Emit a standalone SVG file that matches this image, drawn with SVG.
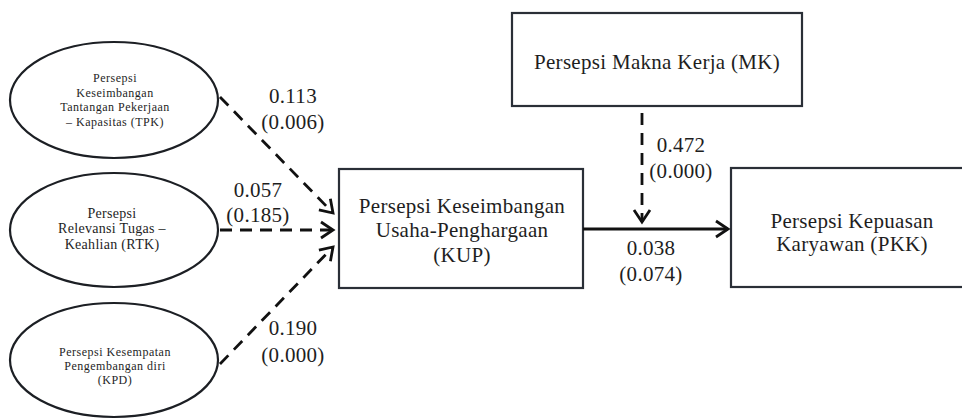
<svg xmlns="http://www.w3.org/2000/svg" width="962" height="420" viewBox="0 0 962 420" font-family="'Liberation Serif', 'Times New Roman', 'DejaVu Serif', serif">
<style>
  .bg{fill:#ffffff}
  .ell{fill:#ffffff;stroke:#1c1f24;stroke-width:2.2}
  .box{fill:#ffffff;stroke:#2a2f37;stroke-width:2.2}
  .t{font-family:'Liberation Serif','Times New Roman','DejaVu Serif',serif;fill:#1e1e1e;text-anchor:middle}
  .big{font-size:21px;letter-spacing:0.3px}
  .sm{font-size:12px;letter-spacing:0.5px}
  .md{font-size:14px;letter-spacing:0.3px}
  .lbl{font-size:21px;letter-spacing:0.3px}
  .dash{fill:none;stroke:#111;stroke-width:2.8;stroke-dasharray:12 8}
  .solid{fill:none;stroke:#111;stroke-width:2.8}
</style>
<defs>
  <marker id="ah" markerWidth="18" markerHeight="22" refX="14" refY="10" orient="auto" markerUnits="userSpaceOnUse">
    <path d="M2,2 L14,10 L2,18" fill="none" stroke="#111" stroke-width="2.8" stroke-dasharray="none" stroke-linejoin="miter"/>
  </marker>
</defs>
<rect class="bg" x="0" y="0" width="962" height="420"/>

<g id="node-TPK">
  <ellipse class="ell" cx="114" cy="100" rx="104" ry="58"/>
  <text class="t sm" x="115" y="82">Persepsi</text>
  <text class="t sm" x="115" y="97">Keseimbangan</text>
  <text class="t sm" x="115" y="111">Tantangan Pekerjaan</text>
  <text class="t sm" x="115" y="126">– Kapasitas (TPK)</text>
</g>

<g id="node-RTK">
  <ellipse class="ell" cx="114" cy="230" rx="104" ry="57"/>
  <text class="t md" x="112" y="218">Persepsi</text>
  <text class="t md" x="112" y="233">Relevansi Tugas –</text>
  <text class="t md" x="112" y="249">Keahlian (RTK)</text>
</g>

<g id="node-KPD">
  <ellipse class="ell" cx="114" cy="360" rx="104" ry="57"/>
  <text class="t sm" x="115" y="356">Persepsi Kesempatan</text>
  <text class="t sm" x="115" y="370">Pengembangan diri</text>
  <text class="t sm" x="115" y="384">(KPD)</text>
</g>

<g id="node-MK">
  <rect class="box" x="512" y="13" width="290" height="93"/>
  <text class="t big" x="657" y="69">Persepsi Makna Kerja (MK)</text>
</g>

<g id="node-KUP">
  <rect class="box" x="339" y="169" width="244" height="119"/>
  <text class="t big" x="462" y="213">Persepsi Keseimbangan</text>
  <text class="t big" x="462" y="237">Usaha-Penghargaan</text>
  <text class="t big" x="462" y="262">(KUP)</text>
</g>

<g id="node-PKK">
  <rect class="box" x="731" y="168" width="244" height="119"/>
  <text class="t big" x="852" y="228">Persepsi Kepuasan</text>
  <text class="t big" x="852" y="251">Karyawan (PKK)</text>
</g>

<g id="connectors">
  <line class="dash" x1="220" y1="97" x2="333" y2="213" marker-end="url(#ah)"/>
  <line class="dash" x1="220" y1="230" x2="333" y2="230" marker-end="url(#ah)"/>
  <line class="dash" x1="220" y1="364" x2="333" y2="247" marker-end="url(#ah)"/>
  <line class="dash" x1="642" y1="113" x2="642" y2="222" marker-end="url(#ah)"/>
  <line class="solid" x1="583" y1="229" x2="728" y2="229" marker-end="url(#ah)"/>
</g>

<g id="labels">
  <text class="t lbl" x="293" y="103">0.113</text>
  <text class="t lbl" x="293" y="129">(0.006)</text>
  <text class="t lbl" x="258" y="197">0.057</text>
  <text class="t lbl" x="258" y="222">(0.185)</text>
  <text class="t lbl" x="293" y="335">0.190</text>
  <text class="t lbl" x="293" y="362">(0.000)</text>
  <text class="t lbl" x="681" y="152">0.472</text>
  <text class="t lbl" x="681" y="178">(0.000)</text>
  <text class="t lbl" x="651" y="255">0.038</text>
  <text class="t lbl" x="651" y="281">(0.074)</text>
</g>
</svg>
